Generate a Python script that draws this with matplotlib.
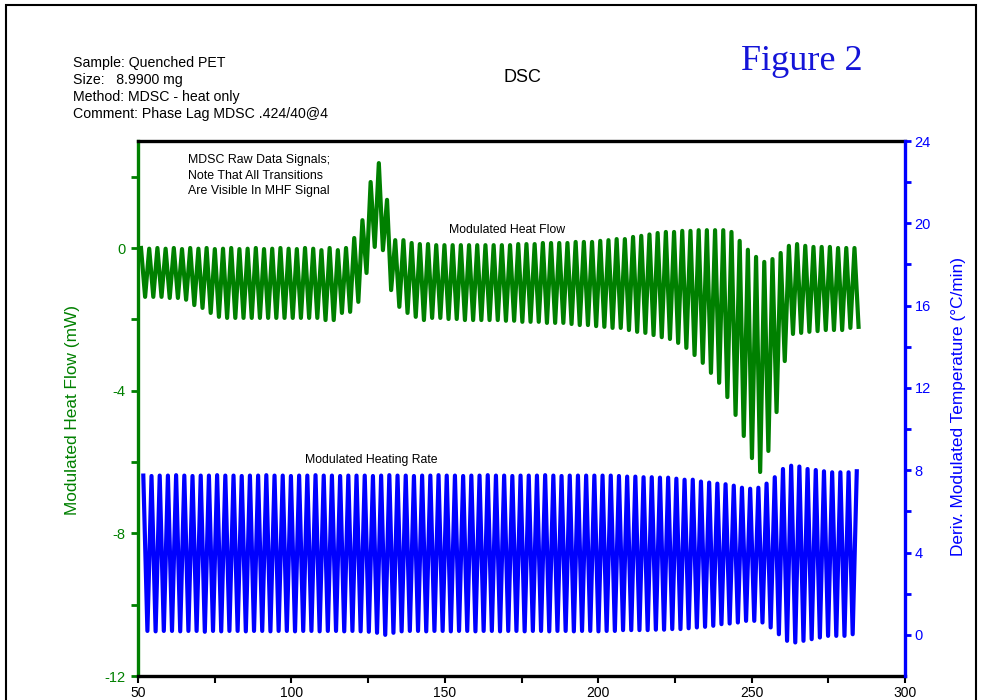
import numpy as np
import matplotlib.pyplot as plt
from matplotlib.patches import Rectangle

plt.rcParams['font.family'] = ['Liberation Sans', 'DejaVu Sans']
plt.rcParams['axes.unicode_minus'] = False

green = '#008000'
blue = '#0000ff'

# one modulation cycle = 40 s at 4 C/min
cycle_period = 2.673
heat_flow_start = 50.98
heat_rate_start = 51.73

# Modulated Heat Flow (mW), peak and trough of each cycle
heat_flow_peaks = [
    0.0, -0.02, 0.0, -0.02, 0.0, -0.03, 0.0, -0.02, 0.0, -0.03,
    -0.02, 0.0, -0.03, -0.02, 0.0, -0.03, -0.02, 0.0, -0.02, -0.03,
    0.0, -0.02, -0.06, 0.0, -0.06, 0.0, 0.28, 0.78, 1.85, 2.38,
    1.35, 0.22, 0.22, 0.14, 0.11, 0.11, 0.08, 0.08, 0.08, 0.08,
    0.08, 0.08, 0.08, 0.08, 0.08, 0.08, 0.11, 0.11, 0.11, 0.14,
    0.14, 0.14, 0.14, 0.17, 0.17, 0.17, 0.20, 0.22, 0.25, 0.25,
    0.31, 0.34, 0.38, 0.42, 0.45, 0.45, 0.48, 0.48, 0.50, 0.50,
    0.50, 0.50, 0.45, 0.20, -0.05, -0.25, -0.39, -0.31, -0.14, 0.06,
    0.11, 0.06, 0.03, 0.03, 0.03, 0.0, 0.0, 0.0]
heat_flow_troughs = [
    -1.37, -1.37, -1.37, -1.40, -1.40, -1.45, -1.60, -1.68, -1.82, -1.93,
    -1.96, -1.96, -1.96, -1.96, -1.96, -1.96, -1.96, -1.96, -1.96, -1.96,
    -1.96, -1.96, -2.02, -2.02, -1.82, -1.79, -1.51, -0.70, 0.03, -0.06,
    -1.18, -1.65, -1.82, -1.93, -2.02, -1.96, -1.96, -1.99, -1.99, -2.02,
    -2.02, -2.02, -2.02, -2.02, -2.04, -2.04, -2.07, -2.07, -2.07, -2.10,
    -2.10, -2.10, -2.13, -2.16, -2.16, -2.19, -2.21, -2.24, -2.24, -2.30,
    -2.35, -2.38, -2.44, -2.50, -2.55, -2.66, -2.80, -3.00, -3.22, -3.50,
    -3.78, -4.18, -4.68, -5.27, -5.89, -6.28, -5.69, -4.60, -3.17, -2.41,
    -2.38, -2.35, -2.33, -2.30, -2.30, -2.30, -2.24, -2.21]

# Modulated Heating Rate (C/min), peak and trough of each cycle
heat_rate_peaks = [
    7.74, 7.72, 7.74, 7.74, 7.76, 7.74, 7.72, 7.74, 7.74, 7.76,
    7.74, 7.74, 7.72, 7.74, 7.74, 7.76, 7.74, 7.74, 7.72, 7.74,
    7.74, 7.76, 7.74, 7.74, 7.72, 7.74, 7.74, 7.74, 7.72, 7.74,
    7.76, 7.74, 7.74, 7.72, 7.74, 7.74, 7.76, 7.74, 7.74, 7.72,
    7.74, 7.74, 7.76, 7.74, 7.74, 7.72, 7.74, 7.74, 7.74, 7.76,
    7.74, 7.72, 7.74, 7.74, 7.74, 7.74, 7.74, 7.74, 7.72, 7.69,
    7.69, 7.66, 7.66, 7.64, 7.64, 7.59, 7.54, 7.54, 7.45, 7.40,
    7.35, 7.32, 7.25, 7.15, 7.10, 7.15, 7.35, 7.66, 8.06, 8.22,
    8.18, 8.06, 8.01, 7.95, 7.90, 7.90, 7.90, 7.95]
heat_rate_troughs = [
    0.19, 0.17, 0.19, 0.19, 0.17, 0.19, 0.19, 0.15, 0.19, 0.17,
    0.19, 0.19, 0.17, 0.19, 0.19, 0.17, 0.19, 0.19, 0.17, 0.19,
    0.19, 0.17, 0.19, 0.19, 0.17, 0.19, 0.17, 0.15, 0.10, 0.0,
    0.10, 0.17, 0.19, 0.19, 0.17, 0.19, 0.19, 0.17, 0.19, 0.19,
    0.17, 0.19, 0.19, 0.17, 0.19, 0.19, 0.17, 0.19, 0.19, 0.17,
    0.19, 0.19, 0.17, 0.19, 0.19, 0.17, 0.19, 0.19, 0.23, 0.23,
    0.23, 0.23, 0.25, 0.25, 0.28, 0.28, 0.32, 0.36, 0.39, 0.44,
    0.52, 0.55, 0.60, 0.68, 0.68, 0.60, 0.36, 0.03, -0.29, -0.37,
    -0.29, -0.21, -0.13, -0.05, -0.05, -0.05, 0.03]

header_lines = ['Sample: Quenched PET', 'Size:   8.9900 mg',
                'Method: MDSC - heat only', 'Comment: Phase Lag MDSC .424/40@4']


def zigzag(start, peaks, troughs):
    '''Peak, trough, peak, ... along temperature.'''
    t, v = [], []
    for i, p in enumerate(peaks):
        t.append(start + i * cycle_period)
        v.append(p)
        if i < len(troughs):
            t.append(start + (i + 0.5) * cycle_period)
            v.append(troughs[i])
    return t, v


fig = plt.figure(figsize=(9.82, 7.0), dpi=100)
W, H = 982, 700


def fx(px):
    return px / W


def fy(py):
    return 1 - py / H


ax = fig.add_axes([fx(138), fy(676), fx(905) - fx(138), fy(141) - fy(676)])
ax2 = ax.twinx()

t_hf, v_hf = zigzag(heat_flow_start, heat_flow_peaks, heat_flow_troughs)
t_hr, v_hr = zigzag(heat_rate_start, heat_rate_peaks, heat_rate_troughs)
ax.plot(t_hf, v_hf, color=green, lw=3.0, solid_joinstyle='round')
ax2.plot(t_hr, v_hr, color=blue, lw=3.0, solid_joinstyle='round')

ax.set_xlim(50, 300)
ax.set_ylim(-12, 3)
ax2.set_ylim(-2, 24)

ax.set_xticks(range(50, 301, 50))
ax.set_xticks(range(75, 300, 50), minor=True)
ax.set_yticks([-12, -8, -4, 0])
ax.set_yticks([-10, -6, -2, 2], minor=True)
ax2.set_yticks(range(0, 25, 4))
ax2.set_yticks(range(2, 23, 4), minor=True)

ax.tick_params(axis='x', which='both', direction='out', length=5, width=1.5,
               colors='black', labelsize=10, pad=2)
ax.tick_params(axis='y', which='both', direction='out', length=5, width=2,
               colors=green, labelsize=10.5, pad=4)
ax2.tick_params(axis='y', which='both', direction='out', length=4, width=2,
                colors=blue, labelsize=10.5, pad=3)

for side in ['top', 'bottom']:
    ax.spines[side].set_color('black')
    ax.spines[side].set_linewidth(2.4)
ax.spines['left'].set_color(green)
ax.spines['left'].set_linewidth(2.4)
ax.spines['right'].set_visible(False)
for side in ['top', 'bottom', 'left']:
    ax2.spines[side].set_visible(False)
ax2.spines['right'].set_color(blue)
ax2.spines['right'].set_linewidth(2.4)

fig.text(fx(72), fy(410), 'Modulated Heat Flow (mW)', color=green,
         fontsize=12.4, rotation=90, ha='center', va='center')
fig.text(fx(958), fy(407), 'Deriv. Modulated Temperature (\u00b0C/min)',
         color=blue, fontsize=12.4, rotation=90, ha='center', va='center')

for i, line in enumerate(header_lines):
    fig.text(fx(73), fy(63 + 17 * i), line, fontsize=10.2, va='center')
fig.text(fx(522), fy(78), 'DSC', fontsize=13, ha='center', va='center')
fig.text(fx(802), fy(62), 'Figure 2', fontsize=26, color='#1414d8',
         family='Liberation Serif', ha='center', va='center')

ax.text(0.065, 0.975, 'MDSC Raw Data Signals;\nNote That All Transitions\nAre Visible In MHF Signal',
        transform=ax.transAxes, fontsize=8.9, va='top', ha='left', linespacing=1.35)
ax.text(170.3, 0.5, 'Modulated Heat Flow', fontsize=8.8, ha='center', va='center')
ax.text(125.9, -5.95, 'Modulated Heating Rate', fontsize=8.8, ha='center', va='center')

fig.add_artist(Rectangle((fx(6), -0.05), fx(976) - fx(6), fy(5) + 0.05,
                         transform=fig.transFigure, fill=False,
                         edgecolor='black', lw=1.5))

fig.savefig('out.png', dpi=100)
